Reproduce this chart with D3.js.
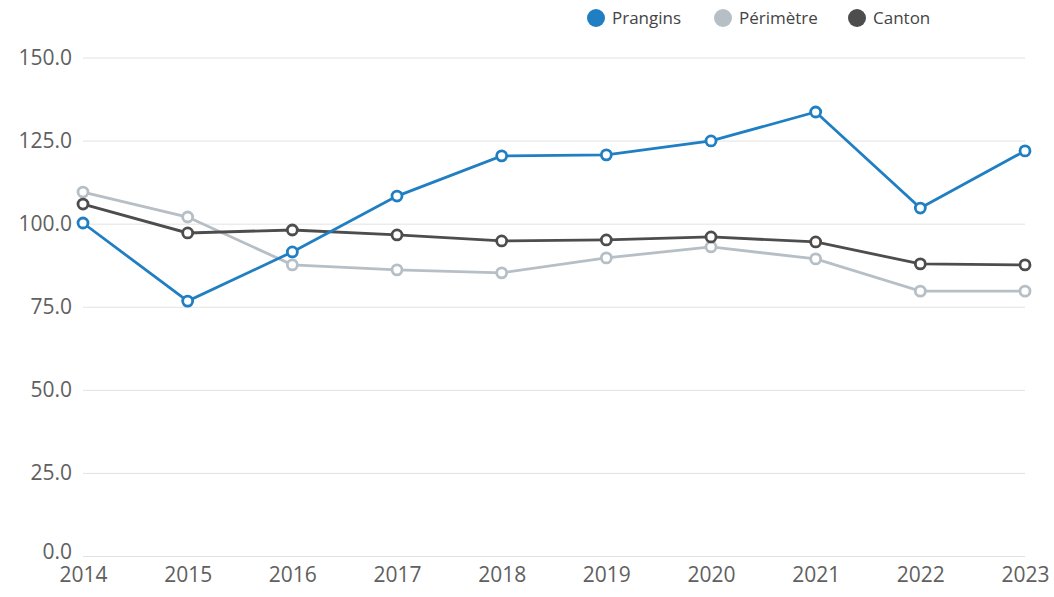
<!DOCTYPE html>
<html>
<head>
<meta charset="utf-8">
<script src="https://cdn.jsdelivr.net/npm/d3@7"></script>
<style>
  body { margin: 0; background: #fff; font-family: "Open Sans", sans-serif; }
</style>
</head>
<body>
<script>
'use strict';

const years = [2014, 2015, 2016, 2017, 2018, 2019, 2020, 2021, 2022, 2023];
const prangins = [100.2, 76.7, 91.5, 108.3, 120.4, 120.7, 124.9, 133.6, 104.7, 121.9];
const perimetre = [109.5, 102.0, 87.6, 86.1, 85.2, 89.7, 93.0, 89.4, 79.7, 79.7];
const canton = [105.9, 97.2, 98.1, 96.6, 94.8, 95.1, 96.0, 94.5, 87.9, 87.6];
const yTicks = [0, 25, 50, 75, 100, 125, 150];

const seriesNames = ["Prangins", "Périmètre", "Canton"];
const seriesColors = ["#1f7fc2", "#b6bfc6", "#4d4d4d"];

const width = 1054, height = 597;
const margin = { left: 83, right: 29, top: 57.5, bottom: 41 };

const svg = d3.select('body').append('svg')
  .attr('width', width)
  .attr('height', height);

const x = d3.scalePoint()
  .domain(years)
  .range([margin.left, width - margin.right]);

const y = d3.scaleLinear()
  .domain([0, 150])
  .range([height - margin.bottom, margin.top]);

// grid lines + y labels
const yAxis = d3.axisLeft(y)
  .tickValues(yTicks)
  .tickFormat(d3.format('.1f'))
  .tickSize(-(width - margin.right - margin.left))
  .tickPadding(11);

const gy = svg.append('g')
  .attr('transform', `translate(${margin.left},0)`)
  .call(yAxis);
gy.select('.domain').remove();
gy.selectAll('.tick line').attr('stroke', '#e2e2e2').attr('stroke-width', 1);
gy.selectAll('.tick text')
  .attr('fill', '#606060')
  .style('font-size', '21px')
  .style('font-family', '"Open Sans", sans-serif');
// "0.0" sits a bit higher so it clears the year labels
gy.selectAll('.tick text').filter(d => d === 0).attr('dy', '0.1em');

// x labels
const xAxis = d3.axisBottom(x).tickSize(0).tickPadding(11);
const gx = svg.append('g')
  .attr('transform', `translate(0,${height - margin.bottom})`)
  .call(xAxis);
gx.select('.domain').remove();
gx.selectAll('.tick text')
  .attr('fill', '#606060')
  .style('font-size', '21px')
  .style('font-family', '"Open Sans", sans-serif');

// series (drawn light to dark, blue on top)
const allSeries = [perimetre, canton, prangins];
const allColors = [seriesColors[1], seriesColors[2], seriesColors[0]];

const line = d3.line()
  .x((d, i) => x(years[i]))
  .y(d => y(d));

allSeries.forEach((vals, k) => {
  const g = svg.append('g');
  g.append('path')
    .datum(vals)
    .attr('fill', 'none')
    .attr('stroke', allColors[k])
    .attr('stroke-width', 2.8)
    .attr('d', line);
  g.selectAll('circle')
    .data(vals)
    .enter()
    .append('circle')
    .attr('cx', (d, i) => x(years[i]))
    .attr('cy', d => y(d))
    .attr('r', 5)
    .attr('fill', '#fff')
    .attr('stroke', allColors[k])
    .attr('stroke-width', 2.8);
});

// legend
const legendX = [596, 723, 857];
const legend = svg.append('g');
seriesNames.forEach((name, i) => {
  legend.append('circle')
    .attr('cx', legendX[i])
    .attr('cy', 18)
    .attr('r', 9)
    .attr('fill', seriesColors[i]);
  legend.append('text')
    .attr('x', legendX[i] + 16)
    .attr('y', 24)
    .attr('fill', '#444')
    .style('font-size', '17px')
    .style('font-family', '"Open Sans", sans-serif')
    .text(name);
});
</script>
</body>
</html>
